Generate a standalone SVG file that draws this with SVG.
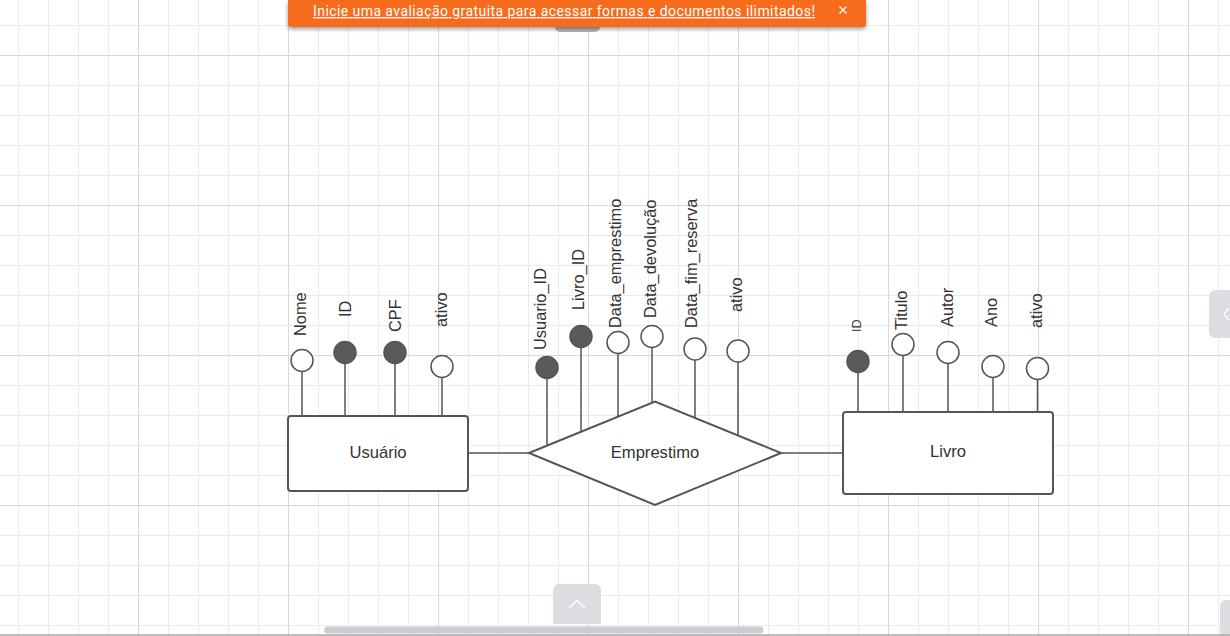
<svg xmlns="http://www.w3.org/2000/svg" width="1230" height="636" viewBox="0 0 1230 636">
<defs>
<pattern id="minor" x="18" y="25" width="30" height="30" patternUnits="userSpaceOnUse"><path d="M0.5 0V30M0 0.5H30" stroke="#ebebeb" stroke-width="1" fill="none"/></pattern>
<pattern id="major" x="138" y="55" width="150" height="150" patternUnits="userSpaceOnUse"><path d="M0.5 0V150M0 0.5H150" stroke="#d9d9d9" stroke-width="1" fill="none"/></pattern>
<filter id="sh" x="-5%" y="-50%" width="110%" height="250%"><feDropShadow dx="0" dy="2" stdDeviation="2" flood-color="#000" flood-opacity="0.4"/></filter>
</defs>
<style>
.shape{fill:#fff;stroke:#555;stroke-width:2}
.attr{fill:#fff;stroke:#555;stroke-width:1.5}
.key{fill:#5a5a5a;stroke:#555;stroke-width:1.5}
.ln{stroke:#555;stroke-width:1.5;fill:none}
.lbl{font-family:"Liberation Sans",Arial,sans-serif;font-size:16.4px;fill:#333}
.name{font-family:"Liberation Sans",Arial,sans-serif;font-size:16.6px;fill:#333;text-anchor:middle}
</style>
<rect width="1230" height="636" fill="#fff"/>
<rect width="1230" height="636" fill="url(#minor)"/>
<rect width="1230" height="636" fill="url(#major)"/>

<g id="connectors">
<line class="ln" x1="468" y1="453" x2="529" y2="453"/>
<line class="ln" x1="781" y1="453" x2="843" y2="453"/>
</g>

<g id="usuario">
<line class="ln" x1="302" y1="372" x2="302" y2="416"/>
<line class="ln" x1="345" y1="364" x2="345" y2="416"/>
<line class="ln" x1="395" y1="364" x2="395" y2="416"/>
<line class="ln" x1="442" y1="378" x2="442" y2="416"/>
<rect class="shape" x="288" y="416" width="180" height="75" rx="3"/>
<text class="name" x="378" y="458">Usuário</text>
<circle class="attr" cx="302" cy="360.5" r="11"/>
<circle class="key" cx="345" cy="352.5" r="11"/>
<circle class="key" cx="395" cy="352.5" r="11"/>
<circle class="attr" cx="442" cy="366.5" r="11"/>
<text class="lbl" transform="translate(306,336) rotate(-90)">Nome</text>
<text class="lbl" transform="translate(350.5,317) rotate(-90)">ID</text>
<text class="lbl" transform="translate(401,332) rotate(-90)">CPF</text>
<text class="lbl" transform="translate(447,327) rotate(-90)">ativo</text>
</g>

<g id="emprestimo">
<line class="ln" x1="547" y1="379" x2="547" y2="445.5"/>
<line class="ln" x1="581" y1="348" x2="581" y2="431.5"/>
<line class="ln" x1="618" y1="354" x2="618" y2="416.5"/>
<line class="ln" x1="652" y1="348" x2="652" y2="402.5"/>
<line class="ln" x1="695" y1="360" x2="695" y2="417.5"/>
<line class="ln" x1="738" y1="362" x2="738" y2="435.5"/>
<polygon class="shape" points="529,453 655,401.5 781,453 655,505"/>
<text class="name" x="655" y="458">Emprestimo</text>
<circle class="key" cx="547" cy="367.5" r="11"/>
<circle class="key" cx="581" cy="336.5" r="11"/>
<circle class="attr" cx="618" cy="342.5" r="11"/>
<circle class="attr" cx="652" cy="336.5" r="11"/>
<circle class="attr" cx="695" cy="349" r="11"/>
<circle class="attr" cx="738" cy="351" r="11"/>
<text class="lbl" transform="translate(546,350) rotate(-90)">Usuario_ID</text>
<text class="lbl" transform="translate(584,310) rotate(-90)">Livro_ID</text>
<text class="lbl" transform="translate(621,328) rotate(-90)">Data_emprestimo</text>
<text class="lbl" transform="translate(656,318) rotate(-90)">Data_devolução</text>
<text class="lbl" transform="translate(697,328) rotate(-90)">Data_fim_reserva</text>
<text class="lbl" transform="translate(742,312) rotate(-90)">ativo</text>
</g>

<g id="livro">
<line class="ln" x1="858" y1="373" x2="858" y2="412"/>
<line class="ln" x1="903" y1="356" x2="903" y2="412"/>
<line class="ln" x1="948" y1="364" x2="948" y2="412"/>
<line class="ln" x1="993" y1="378" x2="993" y2="412"/>
<line class="ln" x1="1037.5" y1="380" x2="1037.5" y2="412"/>
<rect class="shape" x="843" y="412" width="210" height="82" rx="3"/>
<text class="name" x="948" y="457">Livro</text>
<circle class="key" cx="858" cy="361.5" r="11"/>
<circle class="attr" cx="903" cy="344.5" r="11"/>
<circle class="attr" cx="948" cy="352.5" r="11"/>
<circle class="attr" cx="993" cy="366.5" r="11"/>
<circle class="attr" cx="1037.5" cy="368.5" r="11"/>
<text class="lbl" style="font-size:12.8px" transform="translate(860.5,332) rotate(-90)">ID</text>
<text class="lbl" transform="translate(907,330) rotate(-90)">Titulo</text>
<text class="lbl" transform="translate(952.5,327) rotate(-90)">Autor</text>
<text class="lbl" transform="translate(996.5,327) rotate(-90)">Ano</text>
<text class="lbl" transform="translate(1042,328) rotate(-90)">ativo</text>
</g>

<g id="ui">
<rect x="555" y="18" width="45" height="14" rx="5" fill="#b4b5b8"/>
<path d="M288 0H866V24a3 3 0 0 1-3 3H291a3 3 0 0 1-3-3Z" fill="#f76c1a" filter="url(#sh)"/>
<text x="313" y="16" font-family="Roboto,'Liberation Sans',sans-serif" font-size="14" fill="#fff" text-decoration="underline" textLength="502">Inicie uma avaliação gratuita para acessar formas e documentos ilimitados!</text>
<path d="M839.5 6.5L846.5 13.5M846.5 6.5L839.5 13.5" stroke="#fff" stroke-width="1.3"/>
<path d="M553 624V590a6 6 0 0 1 6-6H595a6 6 0 0 1 6 6V624Z" fill="#dcdde0"/>
<path d="M569 608L577 600.5L585 608" stroke="#fff" stroke-width="1.3" fill="none"/>
<rect x="1209" y="290" width="30" height="48" rx="6" fill="#dcdde0"/>
<path d="M1229 308L1224 314L1229 320" stroke="#fff" stroke-width="1.3" fill="none"/>
<rect x="1220" y="600" width="20" height="40" rx="6" fill="#dcdde0"/>
<rect x="324" y="626.5" width="439.5" height="7" rx="3.5" fill="#c9ccd1"/>
<line x1="0" y1="635" x2="1230" y2="635" stroke="#a8a8a8" stroke-width="1.5"/>
</g>
</svg>
